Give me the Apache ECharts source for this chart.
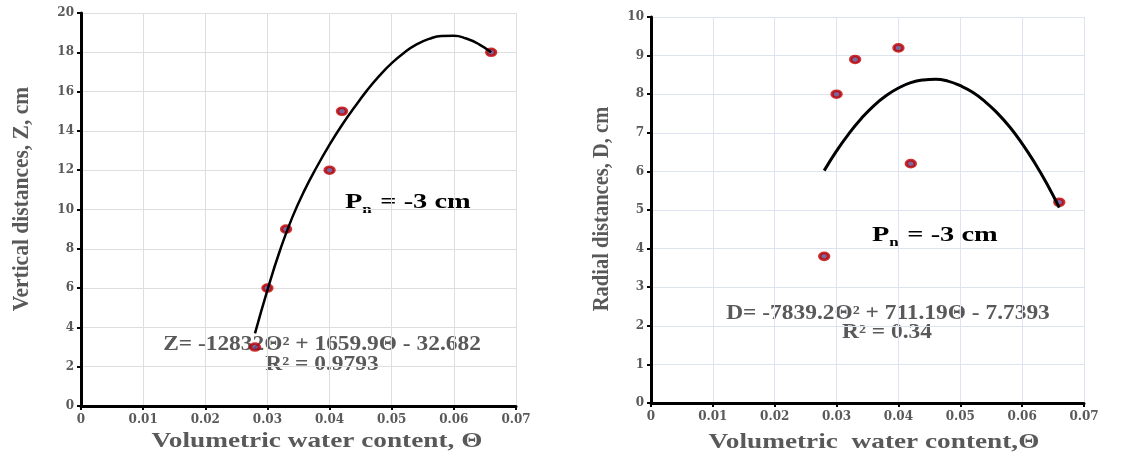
<!DOCTYPE html>
<html>
<head>
<meta charset="utf-8">
<script src="https://cdn.jsdelivr.net/npm/echarts@6/dist/echarts.min.js"></script>
<style>
  html, body { margin: 0; padding: 0; background: #fff; }
  #chart { width: 1145px; height: 457px; }
</style>
</head>
<body>
<div id="chart"></div>
<script>
// measured points, vertical distance Z (left) and radial distance D (right)
const thetaZ = [0.028, 0.030, 0.033, 0.040, 0.042, 0.066]
const zValues = [3, 6, 9, 12, 15, 18]
const thetaD = [0.028, 0.030, 0.033, 0.040, 0.042, 0.066]
const dValues = [3.8, 8, 8.9, 9.2, 6.2, 5.2]

// trend lines
const trendTheta = [0.028, 0.030, 0.032, 0.034, 0.036, 0.038, 0.040, 0.042, 0.044, 0.046,
  0.048, 0.050, 0.052, 0.054, 0.056, 0.058, 0.060, 0.062, 0.064, 0.066]
const zTrendValues = [3.7, 5.9, 7.9, 9.6, 11.0, 12.2, 13.3, 14.3, 15.2, 16.05,
  16.8, 17.45, 17.98, 18.4, 18.68, 18.83, 18.84, 18.7, 18.42, 18.0]
const dTrendValues = [6.02, 6.53, 6.98, 7.37, 7.7, 7.96, 8.16, 8.3, 8.37, 8.39,
  8.34, 8.22, 8.05, 7.81, 7.51, 7.15, 6.72, 6.23, 5.68, 5.06]

const xTicks = ['0', '0.01', '0.02', '0.03', '0.04', '0.05', '0.06', '0.07']

const serif = 'Liberation Serif'
const wideSerif = 'DejaVu Serif'
const grey = '#595959'

const chart = echarts.init(document.getElementById('chart'))

const pair = (xs, ys) => xs.map((x, i) => [x, ys[i]])

function xAxisFor(gridIndex, gridColor) {
  return {
    gridIndex: gridIndex,
    type: 'value',
    min: 0,
    max: 0.07,
    interval: 0.01,
    axisLine: { lineStyle: { color: '#000', width: 3 } },
    axisTick: { show: true, length: 4, lineStyle: { color: '#000', width: 2 } },
    axisLabel: {
      fontFamily: wideSerif, fontWeight: 'bold', fontSize: 12, color: grey, margin: 8,
      formatter: v => xTicks[Math.round(v * 100)]
    },
    splitLine: { show: true, lineStyle: { color: gridColor, width: 1 } }
  }
}

function yAxisFor(gridIndex, max, step, gridColor) {
  return {
    gridIndex: gridIndex,
    type: 'value',
    min: 0,
    max: max,
    interval: step,
    axisLine: { show: true, lineStyle: { color: '#000', width: 3 } },
    axisTick: { show: true, length: 4, lineStyle: { color: '#000', width: 2 } },
    axisLabel: { fontFamily: wideSerif, fontWeight: 'bold', fontSize: 12, color: grey, margin: 7 },
    splitLine: { show: true, lineStyle: { color: gridColor, width: 1 } }
  }
}

const dotStyle = {
  color: '#5a4486',
  borderColor: '#c00000',
  borderWidth: 3
}

// the source picture is stretched sideways, so the texts get a scaleX
function text(x, y, str, size, color, opts) {
  return Object.assign({
    type: 'text',
    x: x,
    y: y,
    style: {
      text: str,
      fontFamily: serif,
      fontWeight: 'bold',
      fontSize: size,
      fill: color,
      align: 'center',
      verticalAlign: 'middle'
    }
  }, opts || {})
}

function pnLabel(x, y) {
  return {
    type: 'text',
    x: x,
    y: y,
    scaleX: 1.42,
    style: {
      text: '{p|P}{s|n}{p| = -3 cm}',
      rich: {
        p: { fontFamily: serif, fontWeight: 'bold', fontSize: 20, fill: '#000', verticalAlign: 'top', lineHeight: 20 },
        s: { fontFamily: serif, fontWeight: 'bold', fontSize: 12, fill: '#000', verticalAlign: 'top', lineHeight: 12, padding: [11, 1, 0, 0] }
      }
    }
  }
}

chart.setOption({
  backgroundColor: '#fff',
  animation: false,
  grid: [
    { left: 81, top: 13, width: 435, height: 393 },
    { left: 651, top: 17, width: 433, height: 386 }
  ],
  xAxis: [
    xAxisFor(0, '#dedede'),
    xAxisFor(1, '#dde3ef')
  ],
  yAxis: [
    yAxisFor(0, 20, 2, '#dedede'),
    yAxisFor(1, 10, 1, '#dde3ef')
  ],
  graphic: [
    text(317, 441, 'Volumetric water content, Θ', 22, grey, { scaleX: 1.24 }),
    text(874, 442, 'Volumetric  water content,Θ', 22, grey, { scaleX: 1.24 }),
    text(22, 199, 'Vertical distances, Z, cm', 21.5, grey, { rotation: Math.PI / 2, scaleY: 1.08 }),
    text(602, 209, 'Radial distances, D, cm', 20.5, grey, { rotation: Math.PI / 2, scaleY: 1.08 }),
    pnLabel(345, 193),
    pnLabel(872, 226),
    text(322, 345, 'Z= -12832Θ² + 1659.9Θ - 32.682', 20, grey, { scaleX: 1.17 }),
    text(322, 365, 'R² = 0.9793', 20, grey, { scaleX: 1.17 }),
    text(888, 314, 'D= -7839.2Θ² + 711.19Θ - 7.7393', 20, grey, { scaleX: 1.17 }),
    text(887, 333, 'R² = 0.34', 20, grey, { scaleX: 1.17 })
  ],
  series: [
    {
      type: 'line',
      xAxisIndex: 0,
      yAxisIndex: 0,
      smooth: true,
      showSymbol: false,
      lineStyle: { color: '#000', width: 2.5 },
      data: pair(trendTheta, zTrendValues),
      z: 3
    },
    {
      type: 'scatter',
      xAxisIndex: 0,
      yAxisIndex: 0,
      symbol: 'circle',
      symbolSize: [9, 7],
      itemStyle: dotStyle,
      data: pair(thetaZ, zValues),
      z: 2
    },
    {
      type: 'line',
      xAxisIndex: 1,
      yAxisIndex: 1,
      smooth: true,
      showSymbol: false,
      lineStyle: { color: '#000', width: 3 },
      data: pair(trendTheta, dTrendValues),
      z: 3
    },
    {
      type: 'scatter',
      xAxisIndex: 1,
      yAxisIndex: 1,
      symbol: 'circle',
      symbolSize: [9, 7],
      itemStyle: dotStyle,
      data: pair(thetaD, dValues),
      z: 2
    }
  ]
})
</script>
</body>
</html>
